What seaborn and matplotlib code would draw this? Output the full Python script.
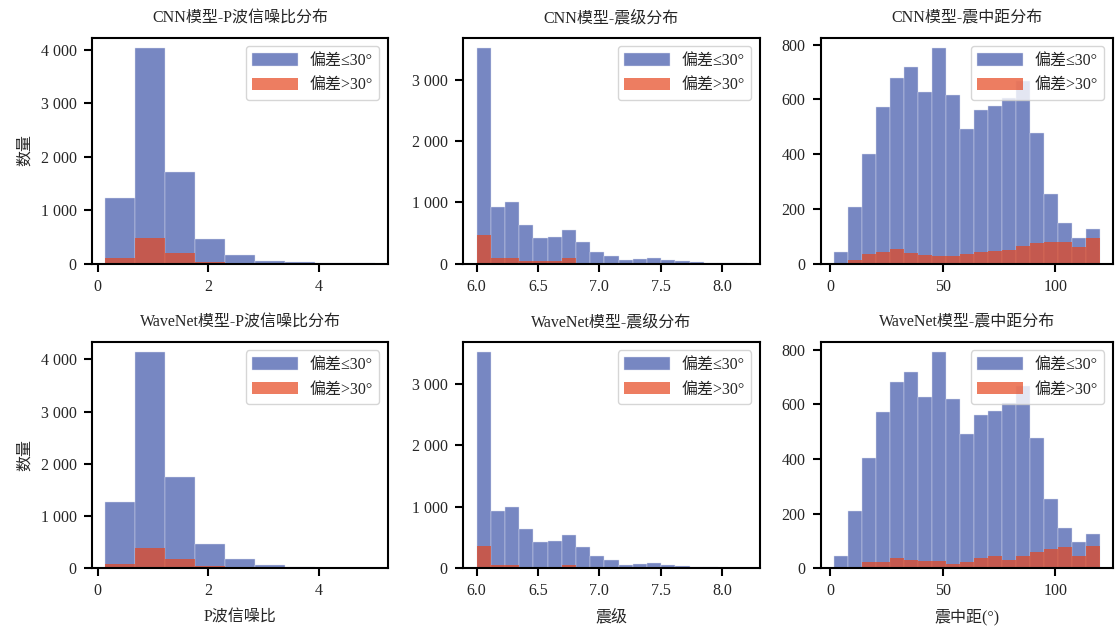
import numpy as np
import pandas as pd
import matplotlib
matplotlib.use("Agg")
import matplotlib.pyplot as plt
import seaborn as sns
from matplotlib.ticker import MultipleLocator, FuncFormatter

# ---------------- data ----------------
snr_edges = [0.14, 0.68, 1.22, 1.76, 2.30, 2.84, 3.38, 3.92, 4.46, 5.00]
mag_edges = [6.000, 6.116, 6.232, 6.347, 6.463, 6.579, 6.695, 6.811, 6.926, 7.042,
             7.158, 7.274, 7.389, 7.505, 7.621, 7.737, 7.853, 7.968, 8.084, 8.200]
dist_edges = [1.76, 7.97, 14.19, 20.40, 26.61, 32.83, 39.04, 45.25, 51.46, 57.68,
              63.89, 70.10, 76.32, 82.53, 88.74, 94.96, 101.17, 107.38, 113.59, 119.81]

cnn_snr_ok = [1231, 4031, 1719, 452, 162, 45, 22, 8, 3]
cnn_snr_bad = [112, 486, 199, 30, 8, 3, 1, 0, 0]
wn_snr_ok = [1270, 4134, 1754, 469, 182, 55, 28, 10, 3]
wn_snr_bad = [80, 390, 175, 35, 7, 2, 1, 0, 0]

cnn_mag_ok = [3519, 927, 998, 630, 415, 440, 545, 345, 195, 128, 57, 68, 90, 55, 38, 30, 16, 10, 5]
cnn_mag_bad = [465, 82, 82, 42, 37, 37, 98, 10, 5, 3, 2, 1, 1, 1, 0, 0, 0, 0, 0]
wn_mag_ok = [3511, 925, 996, 637, 425, 441, 544, 348, 201, 131, 54, 65, 87, 44, 33, 27, 16, 11, 5]
wn_mag_bad = [360, 55, 60, 18, 22, 22, 55, 5, 3, 2, 1, 1, 1, 0, 0, 0, 0, 0, 0]

cnn_dist_ok = [43, 207, 402, 573, 680, 717, 626, 787, 616, 490, 561, 577, 605, 668, 476, 254, 147, 93, 126]
cnn_dist_bad = [0, 14, 35, 41, 52, 37, 31, 29, 28, 34, 42, 47, 51, 64, 74, 79, 77, 62, 92]
wn_dist_ok = [43, 209, 404, 573, 681, 720, 628, 790, 619, 491, 561, 577, 605, 668, 475, 255, 147, 95, 127]
wn_dist_bad = [0, 6, 23, 24, 37, 29, 28, 26, 17, 24, 37, 43, 31, 43, 60, 71, 76, 45, 82]

titles = [["CNN模型-P波信噪比分布", "CNN模型-震级分布", "CNN模型-震中距分布"],
          ["WaveNet模型-P波信噪比分布", "WaveNet模型-震级分布", "WaveNet模型-震中距分布"]]
xlabels = ["P波信噪比", "震级", "震中距(°)"]
ylabel = "数量"
labels = ["偏差≤30°", "偏差>30°"]

edges_list = [snr_edges, mag_edges, dist_edges]
ok_data = [[cnn_snr_ok, cnn_mag_ok, cnn_dist_ok], [wn_snr_ok, wn_mag_ok, wn_dist_ok]]
bad_data = [[cnn_snr_bad, cnn_mag_bad, cnn_dist_bad], [wn_snr_bad, wn_mag_bad, wn_dist_bad]]

# ---------------- style ----------------
sns.set_theme(style="ticks")
FONT = ["Liberation Serif", "Noto Sans CJK SC", "DejaVu Sans"]
plt.rcParams["font.family"] = FONT
plt.rcParams["axes.unicode_minus"] = False

BLUE = "#3E54A9"
RED = "#E6461E"
ALPHA = 0.7
FS = 11.5

fig = plt.figure(figsize=(11.15, 6.34), dpi=100)
W, H = 1115, 634
col_left = [92, 463, 821]
col_width = [296, 297, 292]
row_top = [37.5, 341.7]
row_h = [226.0, 226.5]

x_major = [2, 0.5, 50]
y_major = [1000, 1000, 200]

thou = FuncFormatter(lambda v, p: f"{int(round(v)):,}".replace(",", " "))

for r in range(2):
    for c in range(3):
        ax = fig.add_axes([col_left[c] / W, 1 - (row_top[r] + row_h[r]) / H,
                           col_width[c] / W, row_h[r] / H])
        edges = list(edges_list[c])
        centers = [(a + b) / 2 for a, b in zip(edges[:-1], edges[1:])]
        df_ok = pd.DataFrame({"x": centers, "w": ok_data[r][c]})
        df_bad = pd.DataFrame({"x": centers, "w": bad_data[r][c]})
        sns.histplot(data=df_ok, x="x", weights="w", bins=edges, color=BLUE,
                     alpha=ALPHA, edgecolor="#dde0f0", linewidth=0.3,
                     label=labels[0], ax=ax)
        sns.histplot(data=df_bad, x="x", weights="w", bins=edges, color=RED,
                     alpha=ALPHA, edgecolor="white", linewidth=0.0,
                     label=labels[1], ax=ax)
        ax.set_title(titles[r][c], fontsize=FS, pad=11)
        ax.set_ylabel(ylabel if c == 0 else "", fontsize=FS, labelpad=6)
        ax.set_xlabel(xlabels[c] if r == 1 else "", fontsize=FS, labelpad=7)
        ax.xaxis.set_major_locator(MultipleLocator(x_major[c]))
        ax.yaxis.set_major_locator(MultipleLocator(y_major[c]))
        ax.yaxis.set_major_formatter(thou)
        if c == 1:
            ax.xaxis.set_major_formatter(FuncFormatter(lambda v, p: f"{v:.1f}"))
        ax.tick_params(axis="both", which="major", length=6, width=1.5,
                       labelsize=FS, direction="out", color="black", pad=5)
        for s in ax.spines.values():
            s.set_linewidth(1.5)
            s.set_color("black")
        ax.legend(loc="upper right", handlelength=2.9,
                  handleheight=0.85, labelspacing=0.55, borderaxespad=0.55,
                  handletextpad=0.7, framealpha=0.8, fancybox=True,
                  edgecolor="#cccccc", prop={"family": FONT, "size": FS})

fig.savefig("out.png", dpi=100)
